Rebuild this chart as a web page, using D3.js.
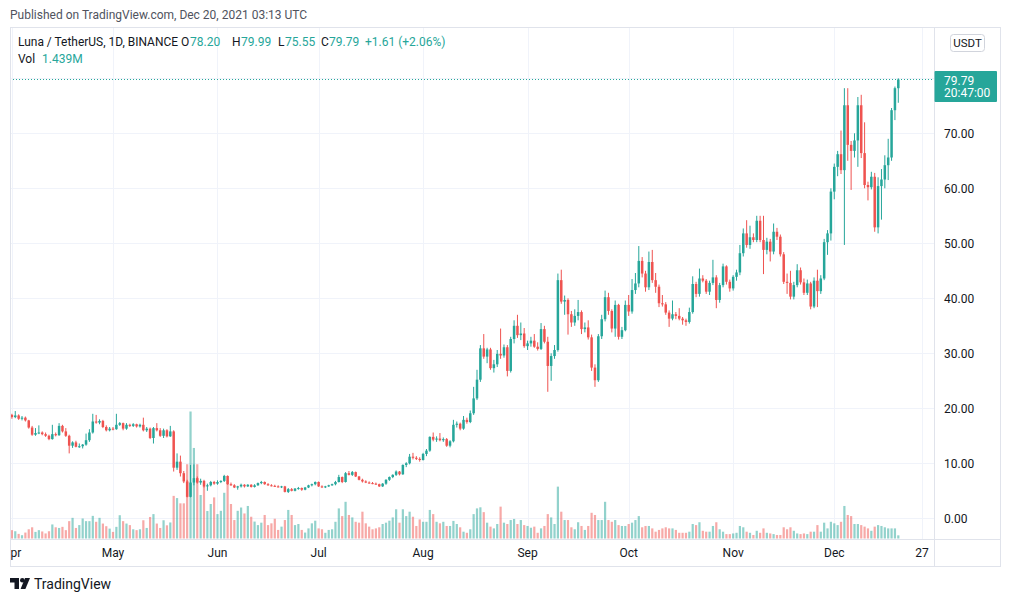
<!DOCTYPE html>
<html><head><meta charset="utf-8">
<script src="https://cdn.jsdelivr.net/npm/d3@7"></script>
<style>
html,body{margin:0;padding:0;background:#fff;}
svg{display:block;font-family:"Trebuchet MS",Roboto,"Noto Sans",sans-serif;}
</style></head>
<body>
<svg id="c" width="1012" height="602"></svg>
<script>
// ---- data: LUNA/USDT daily candles, 2021-04-01 .. 2021-12-20 ----
const startDate = "2021-04-01";
const open = [18.8,18.4,18.7,18.1,18.3,17.8,16.5,15.2,15.5,15.6,15.3,15.0,14.4,15.3,15.1,16.8,15.8,15.0,13.2,13.8,13.0,13.1,13.4,14.2,15.6,17.6,17.4,17.7,16.6,16.0,
16.3,16.2,17.0,17.3,16.3,17.0,16.8,17.1,16.7,17.0,16.0,16.3,14.6,16.4,16.0,15.0,16.0,14.9,15.8,9.2,10.3,8.2,6.7,3.9,6.5,7.3,6.5,6.8,5.8,6.0,6.6,
6.3,6.6,6.8,7.7,6.2,6.0,5.6,5.8,6.1,5.8,6.1,5.7,6.0,6.4,6.6,6.2,6.0,5.9,5.8,5.7,5.8,4.8,5.3,5.0,5.4,5.5,5.2,5.6,6.0,6.2,
6.6,5.8,5.7,5.8,6.0,6.2,6.6,7.5,6.6,8.2,7.9,8.4,7.6,7.0,6.7,6.5,6.4,6.3,6.2,5.8,6.3,7.0,7.5,7.9,8.5,8.0,9.7,10.0,11.2,11.0,10.8,
10.6,11.7,12.3,14.8,14.3,14.5,14.2,14.4,13.2,14.0,17.0,17.2,16.3,17.9,17.5,19.1,21.8,25.2,30.9,29.4,30.7,27.3,28.0,29.9,29.6,31.1,26.8,32.6,35.0,33.3,33.6,
31.3,31.8,32.3,31.2,30.8,34.4,32.1,27.7,29.5,30.6,43.3,39.4,39.7,37.1,35.6,36.8,37.5,34.4,34.7,32.9,27.4,25.1,33.1,36.2,40.2,37.7,34.5,38.8,33.0,34.2,
38.8,37.6,41.5,42.7,46.8,44.5,42.0,46.6,43.3,42.1,39.1,38.9,37.4,36.3,37.1,36.8,36.3,36.0,35.7,37.5,42.6,40.8,43.6,43.2,41.2,42.8,43.8,39.7,42.4,45.8,43.0,
41.8,43.9,44.7,48.2,51.8,49.7,51.1,50.6,54.1,50.6,48.8,50.3,48.5,52.1,51.2,48.0,43.0,42.8,40.3,42.4,45.1,42.9,41.0,42.7,38.5,43.2,41.3,43.6,50.2,51.8,
59.4,63.9,66.2,63.3,75.1,67.9,66.8,68.7,75.1,66.4,60.6,60.2,62.1,52.9,60.4,61.6,64.2,65.6,74.2,78.2];
const high = [19.0,19.5,18.9,18.6,18.5,17.9,16.8,16.4,16.9,15.8,15.6,15.2,17.0,15.6,17.3,17.0,16.4,15.2,14.0,14.1,13.6,13.5,15.4,16.2,19.0,18.8,18.0,17.9,16.9,16.6,
16.6,19.0,17.5,17.4,17.3,17.2,17.3,17.2,17.2,18.3,16.6,16.5,16.6,17.3,16.4,16.3,16.2,16.8,16.0,11.8,11.4,8.6,7.0,9.7,9.8,7.6,7.2,7.0,6.3,6.8,6.8,
6.9,6.9,7.9,7.8,6.5,6.2,5.9,6.3,6.2,6.2,6.2,6.2,6.5,6.8,6.7,6.4,6.2,6.1,6.0,5.9,5.9,5.5,5.5,5.5,5.7,5.6,5.7,6.1,6.3,6.7,
6.7,6.0,5.9,6.1,6.3,6.8,7.9,7.6,8.4,8.6,8.6,8.5,7.7,7.2,6.9,6.7,6.6,6.5,6.3,6.4,7.1,7.6,8.0,8.7,8.6,9.8,10.2,11.7,11.9,11.3,11.1,
11.9,12.6,14.9,15.6,14.9,15.5,14.7,14.6,14.2,17.9,17.6,17.4,18.6,18.3,19.6,23.9,27.0,31.5,33.5,31.0,31.0,28.8,30.6,34.5,31.6,31.5,33.0,36.0,37.0,35.6,34.6,
32.3,33.0,33.5,32.0,35.5,35.0,33.0,30.0,31.5,44.5,45.2,40.5,40.0,37.7,38.0,39.7,37.8,35.6,36.0,33.4,28.0,33.5,37.0,41.4,41.0,38.0,39.6,39.0,34.8,39.6,
40.6,43.5,44.6,49.5,47.5,45.0,48.5,48.8,44.6,42.5,40.6,39.3,37.8,39.6,37.5,38.2,36.6,36.3,38.3,44.0,43.0,45.4,44.2,43.5,43.2,47.0,44.2,42.8,46.3,46.0,43.4,
44.2,45.2,49.7,52.7,54.2,53.2,51.8,55.0,55.0,55.0,51.0,50.8,53.6,52.8,51.6,48.4,44.5,45.0,43.0,46.2,45.6,43.6,43.4,43.0,43.8,45.2,44.2,50.8,52.4,60.0,
64.5,66.8,70.5,78.2,78.2,68.6,70.0,76.6,77.0,72.0,61.2,63.0,62.8,62.0,63.5,66.0,69.0,74.6,78.5,79.99];
const low = [18.1,18.2,17.9,17.8,17.6,16.3,15.0,15.0,15.3,15.1,14.8,14.2,14.3,14.9,15.0,15.6,14.8,11.8,12.8,12.9,12.8,12.7,13.2,13.9,15.4,17.2,17.1,16.4,15.8,15.8,
16.0,16.1,16.8,16.0,16.1,16.6,16.6,16.5,16.5,15.8,15.7,14.4,13.6,15.8,14.8,14.6,14.7,14.8,8.5,8.8,7.6,6.4,3.8,3.8,6.0,6.3,6.1,5.6,5.0,5.8,6.1,
6.1,6.4,6.6,6.1,5.9,5.5,5.2,5.6,5.6,5.7,5.6,5.6,5.9,6.2,6.1,5.9,5.8,5.7,5.6,5.5,4.7,4.6,4.9,4.9,5.2,5.0,5.1,5.5,5.8,6.0,
5.7,5.5,5.5,5.7,5.9,6.0,6.5,6.4,6.5,7.8,7.7,7.5,6.9,6.5,6.4,6.3,6.2,6.1,5.7,5.7,6.1,6.8,7.3,7.7,7.8,7.9,9.3,9.8,10.7,10.6,10.3,
10.5,11.3,12.1,14.0,13.9,14.0,13.9,13.0,12.9,13.8,16.5,16.0,16.1,17.2,17.3,18.8,21.5,24.8,29.0,28.2,27.0,26.5,27.5,29.0,29.2,25.8,26.5,31.8,32.8,32.4,31.0,
30.6,31.2,31.0,30.5,30.6,31.8,23.0,25.0,29.0,30.3,39.0,37.0,33.4,34.8,35.0,36.0,33.5,33.8,32.5,26.8,23.9,24.8,32.6,35.8,37.0,33.8,33.0,32.5,32.6,34.0,
36.8,37.2,40.8,42.0,43.8,41.2,41.5,42.8,41.0,38.4,38.5,37.0,34.8,36.0,36.2,36.0,35.2,35.0,35.4,37.2,40.2,40.3,42.9,40.8,40.6,42.4,38.2,39.2,42.0,42.5,41.2,
41.4,43.2,44.2,47.6,49.2,49.0,50.2,50.2,50.2,44.4,48.0,46.7,48.0,50.6,47.6,42.6,40.8,39.8,39.8,42.0,42.5,40.6,40.6,38.0,38.2,38.4,40.8,43.3,47.9,50.5,
58.0,62.2,62.6,49.7,65.0,59.7,65.6,63.9,65.5,60.0,57.8,59.8,52.1,51.8,54.3,60.0,61.5,65.0,72.4,75.55];
const close = [18.4,18.7,18.1,18.3,17.8,16.5,15.2,15.5,15.6,15.3,15.0,14.4,15.3,15.1,16.8,15.8,15.0,13.2,13.8,13.0,13.1,13.4,14.2,15.6,17.6,17.4,17.7,16.6,16.0,16.3,
16.2,17.0,17.3,16.3,17.0,16.8,17.1,16.7,17.0,16.0,16.3,14.6,16.4,16.0,15.0,16.0,14.9,15.8,9.2,10.3,8.2,6.7,3.9,6.5,7.3,6.5,6.8,5.8,6.0,6.6,6.3,
6.6,6.8,7.7,6.2,6.0,5.6,5.8,6.1,5.8,6.1,5.7,6.0,6.4,6.6,6.2,6.0,5.9,5.8,5.7,5.8,4.8,5.3,5.0,5.4,5.5,5.2,5.6,6.0,6.2,6.6,
5.8,5.7,5.8,6.0,6.2,6.6,7.5,6.6,8.2,7.9,8.4,7.6,7.0,6.7,6.5,6.4,6.3,6.2,5.8,6.3,7.0,7.5,7.9,8.5,8.0,9.7,10.0,11.2,11.0,10.8,10.6,
11.7,12.3,14.8,14.3,14.5,14.2,14.4,13.2,14.0,17.0,17.2,16.3,17.9,17.5,19.1,21.8,25.2,30.9,29.4,30.7,27.3,28.0,29.9,29.6,31.1,26.8,32.6,35.0,33.3,33.6,31.3,
31.8,32.3,31.2,30.8,34.4,32.1,27.7,29.5,30.6,43.3,39.4,39.7,37.1,35.6,36.8,37.5,34.4,34.7,32.9,27.4,25.1,33.1,36.2,40.2,37.7,34.5,38.8,33.0,34.2,38.8,
37.6,41.5,42.7,46.8,44.5,42.0,46.6,43.3,42.1,39.1,38.9,37.4,36.3,37.1,36.8,36.3,36.0,35.7,37.5,42.6,40.8,43.6,43.2,41.2,42.8,43.8,39.7,42.4,45.8,43.0,41.8,
43.9,44.7,48.2,51.8,49.7,51.1,50.6,54.1,50.6,48.8,50.3,48.5,52.1,51.2,48.0,43.0,42.8,40.3,42.4,45.1,42.9,41.0,42.7,38.5,43.2,41.3,43.6,50.2,51.8,59.4,
63.9,66.2,63.3,75.1,67.9,66.8,68.7,75.1,66.4,60.6,60.2,62.1,52.9,60.4,61.6,64.2,65.6,74.2,78.2,79.79];
const volume = [3.8,3.3,2.1,1.5,2.7,4.2,5.1,3.0,3.8,3.2,2.3,3.3,6.4,5.1,4.8,5.3,3.8,7.9,9.4,4.8,6.1,9.1,7.9,7.9,10.3,7.6,9.4,6.8,5.6,4.5,
3.0,5.3,10.6,7.9,6.8,6.1,4.2,3.8,4.2,8.3,4.8,9.8,11.1,6.8,4.8,8.3,6.0,7.3,19.4,18.4,16.0,16.0,33.8,57.8,41.2,33.8,19.8,23.9,12.5,15.7,18.7,
11.1,12.6,20.8,26.6,15.7,8.4,12.6,14.1,11.4,14.8,9.9,7.7,6.1,7.2,10.7,6.1,6.9,9.0,3.9,5.4,8.4,13.0,10.7,6.1,6.6,3.9,2.7,4.6,6.9,8.1,
4.6,4.2,2.6,3.9,4.2,7.6,13.7,10.2,16.7,10.7,9.6,7.6,7.2,12.2,6.9,5.4,4.2,4.6,5.1,6.6,7.2,8.1,9.6,13.3,7.2,13.3,10.2,12.2,9.9,5.7,8.7,
7.6,7.6,13.0,11.1,7.6,6.9,7.6,5.7,5.7,8.0,6.6,5.1,3.1,2.6,4.2,11.1,13.7,14.2,12.0,7.2,5.4,4.6,6.6,14.5,7.2,6.6,8.4,8.9,6.6,8.4,6.1,
5.7,4.9,5.4,2.6,4.6,5.7,11.1,9.6,6.6,23.6,12.2,8.4,8.4,5.1,4.2,7.4,5.7,3.9,5.7,11.7,10.7,8.4,8.4,16.7,8.4,7.6,8.4,6.1,5.7,5.7,
6.6,7.2,8.4,10.2,5.1,5.7,5.7,4.6,3.1,3.9,4.6,5.1,4.6,4.6,3.9,2.6,2.6,2.6,3.1,6.6,6.1,7.4,3.5,3.1,3.1,5.7,7.4,4.2,3.1,2.0,2.0,
2.3,2.6,5.7,5.1,3.1,2.6,1.6,3.5,2.6,4.6,2.6,2.3,2.0,1.6,1.6,5.1,4.2,5.1,3.5,2.3,2.0,2.3,2.0,3.1,3.1,6.1,3.1,7.2,4.6,7.6,
6.9,6.1,7.6,14.8,10.7,10.2,6.6,6.6,6.1,5.4,4.6,3.5,5.4,6.1,5.7,5.1,4.6,4.6,4.6,1.439];
const priceTicks = [0,10,20,30,40,50,60,70];
const timeTicks = ["2021-04-01","2021-05-01","2021-06-01","2021-07-01","2021-08-01","2021-09-01","2021-10-01","2021-11-01","2021-12-01","2021-12-27"];
const timeTickLabels = ["Apr","May","Jun","Jul","Aug","Sep","Oct","Nov","Dec","27"];
const lastPrice = 79.79, lastTimer = "20:47:00";

// ---- layout ----
const UP = "#26a69a", DOWN = "#ef5350", TXT = "#131722", GRID = "#f0f3fa", BORDER = "#e0e3eb";
const L = 10, R = 934, T = 27, B = 539, FR = 1001, FB = 567;
const svg = d3.select("#c");
const t0 = new Date(startDate + "T00:00:00Z");
const data = close.map((c, i) => ({
  date: d3.utcDay.offset(t0, i), o: open[i], h: high[i], l: low[i], c: c, v: volume[i]
}));

const x = d3.scaleUtc().domain([new Date("2021-04-01T00:00:00Z"), new Date("2021-12-27T00:00:00Z")]).range([11.9, 921.9]);
const y = d3.scaleLinear().domain([0, 70]).range([518.3, 133.3]);
const yv = d3.scaleLinear().domain([0, d3.max(volume)]).range([B - 0.5, 411.5]);

svg.append("defs").append("clipPath").attr("id", "plot")
  .append("rect").attr("x", L).attr("y", T).attr("width", R - L).attr("height", B - T);

// grid
const g = svg.append("g").attr("clip-path", "url(#plot)");
g.selectAll("line.h").data(priceTicks.concat([80])).join("line")
  .attr("x1", L).attr("x2", R).attr("y1", d => Math.round(y(d)) + 0.5).attr("y2", d => Math.round(y(d)) + 0.5)
  .attr("stroke", GRID);
g.selectAll("line.v").data(timeTicks).join("line")
  .attr("y1", T).attr("y2", B).attr("x1", d => Math.round(x(new Date(d + "T00:00:00Z"))) + 0.5)
  .attr("x2", d => Math.round(x(new Date(d + "T00:00:00Z"))) + 0.5).attr("stroke", GRID);

// volume
g.selectAll("rect.vol").data(data).join("rect")
  .attr("x", d => x(d.date) - 1.1).attr("width", 2.2)
  .attr("y", d => yv(d.v)).attr("height", d => yv(0) - yv(d.v))
  .attr("fill", d => d.c >= d.o ? UP : DOWN).attr("fill-opacity", 0.5);

// candles
const cg = g.append("g");
cg.selectAll("line.wick").data(data).join("line")
  .attr("x1", d => x(d.date)).attr("x2", d => x(d.date))
  .attr("y1", d => y(d.h)).attr("y2", d => y(d.l))
  .attr("stroke", d => d.c >= d.o ? UP : DOWN).attr("stroke-width", 1);
cg.selectAll("rect.body").data(data).join("rect")
  .attr("x", d => x(d.date) - 1.25).attr("width", 2.5)
  .attr("y", d => y(Math.max(d.o, d.c)))
  .attr("height", d => Math.max(1, Math.abs(y(d.o) - y(d.c))))
  .attr("fill", d => d.c >= d.o ? UP : DOWN);

// last price dotted line
const ly = Math.round(y(lastPrice)) + 0.5;
g.append("line").attr("x1", L).attr("x2", R).attr("y1", ly).attr("y2", ly)
  .attr("stroke", UP).attr("stroke-dasharray", "1,2").attr("shape-rendering", "crispEdges");

// frame
svg.append("rect").attr("x", L + 0.5).attr("y", T + 0.5).attr("width", FR - L - 1).attr("height", FB - T - 1)
  .attr("fill", "none").attr("stroke", BORDER);
svg.append("line").attr("x1", R + 0.5).attr("x2", R + 0.5).attr("y1", T).attr("y2", FB).attr("stroke", BORDER);
svg.append("line").attr("x1", L).attr("x2", FR).attr("y1", B + 0.5).attr("y2", B + 0.5).attr("stroke", BORDER);

// price axis labels
svg.selectAll("text.py").data(priceTicks).join("text")
  .attr("x", 944).attr("y", d => y(d) + 4.3).attr("font-size", 12).attr("fill", TXT)
  .text(d => d3.format(".2f")(d));

// last price label
svg.append("rect").attr("x", R + 0.5).attr("y", 71).attr("width", 62.5).attr("height", 31).attr("fill", UP).attr("rx", 1);
svg.append("text").attr("x", 944).attr("y", 84.5).attr("font-size", 12).attr("fill", "#fff").text(d3.format(".2f")(lastPrice));
svg.append("text").attr("x", 944).attr("y", 97).attr("font-size", 12).attr("fill", "#fff").text(lastTimer);

// currency button
svg.append("rect").attr("x", 950.5).attr("y", 34.5).attr("width", 34).attr("height", 17).attr("rx", 3)
  .attr("fill", "#fff").attr("stroke", "#d1d4dc");
svg.append("text").attr("x", 967.5).attr("y", 47).attr("text-anchor", "middle").attr("font-size", 11.5).attr("fill", TXT).text("USDT");

// time axis labels
svg.append("defs").append("clipPath").attr("id", "tax")
  .append("rect").attr("x", L + 1).attr("y", B).attr("width", R - L - 1).attr("height", FB - B);
svg.append("g").attr("clip-path", "url(#tax)").selectAll("text").data(timeTicks).join("text")
  .attr("x", (d) => x(new Date(d + "T00:00:00Z"))).attr("y", 557)
  .attr("text-anchor", "middle").attr("font-size", 12).attr("fill", TXT)
  .text((d, i) => timeTickLabels[i]);

// header
svg.append("text").attr("x", 10).attr("y", 19).attr("font-size", 12).attr("fill", "#50535e")
  .text("Published on TradingView.com, Dec 20, 2021 03:13 UTC");
const legend = [
  {x: 18, t: "Luna / TetherUS, 1D, BINANCE", c: TXT, w: 160},
  {x: 181, t: "O", c: TXT}, {x: 190, t: "78.20", c: UP},
  {x: 232, t: "H", c: TXT}, {x: 241, t: "79.99", c: UP},
  {x: 278, t: "L", c: TXT}, {x: 285, t: "75.55", c: UP},
  {x: 321, t: "C", c: TXT}, {x: 329, t: "79.79", c: UP},
  {x: 365, t: "+1.61 (+2.06%)", c: UP}
];
svg.selectAll("text.lg").data(legend).join("text")
  .attr("x", d => d.x).attr("y", 46).attr("font-size", 12).attr("fill", d => d.c)
  .each(function(d){ if (d.w) d3.select(this).attr("textLength", d.w).attr("lengthAdjust", "spacingAndGlyphs"); })
  .text(d => d.t);
svg.append("text").attr("x", 18).attr("y", 63).attr("font-size", 12).attr("fill", TXT).text("Vol");
svg.append("text").attr("x", 42).attr("y", 63).attr("font-size", 12).attr("fill", UP).text("1.439M");

// TradingView logo
const logo = svg.append("g").attr("fill", TXT);
logo.append("path").attr("d", "M10 578h9v11h-4.5v-6.5H10z");
logo.append("circle").attr("cx", 22.3).attr("cy", 580.3).attr("r", 2.3);
logo.append("path").attr("d", "M25 578h5l-4.6 11h-4.8z");
svg.append("text").attr("x", 34).attr("y", 588.5).attr("font-size", 14).attr("fill", TXT).text("TradingView");
</script>
</body></html>
